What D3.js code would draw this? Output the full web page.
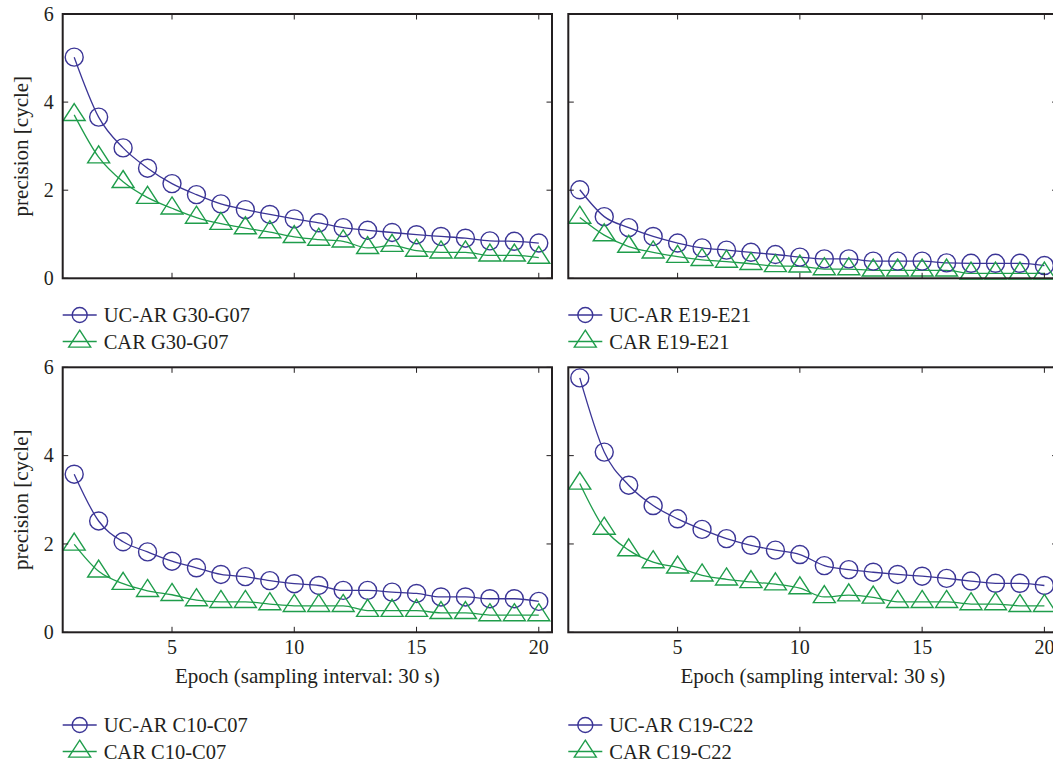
<!DOCTYPE html>
<html>
<head>
<meta charset="utf-8">
<script src="https://cdn.jsdelivr.net/npm/d3@7"></script>
<style>
  html, body { margin: 0; padding: 0; background: #fff; }
  svg { display: block; }
  text { font-family: "Liberation Serif", "DejaVu Serif", serif; fill: #231f20; }
</style>
</head>
<body>
<svg id="chart" width="1053" height="767"></svg>
<script>
// ---- data ----
const epochs = [1, 2, 3, 4, 5, 6, 7, 8, 9, 10, 11, 12, 13, 14, 15, 16, 17, 18, 19, 20];
const xTicks = [5, 10, 15, 20];
const yTicks = [0, 2, 4, 6];

const ucarG30G07 = [5.02, 3.66, 2.96, 2.50, 2.15, 1.90, 1.69, 1.56, 1.45, 1.35, 1.26, 1.15, 1.09, 1.04, 0.99, 0.95, 0.91, 0.85, 0.84, 0.80];
const carG30G07  = [3.71, 2.75, 2.19, 1.83, 1.59, 1.38, 1.24, 1.14, 1.05, 0.94, 0.88, 0.84, 0.69, 0.74, 0.63, 0.59, 0.59, 0.52, 0.52, 0.47];

const ucarE19E21 = [2.01, 1.40, 1.15, 0.95, 0.80, 0.69, 0.64, 0.59, 0.54, 0.48, 0.44, 0.44, 0.39, 0.39, 0.39, 0.35, 0.34, 0.34, 0.34, 0.29];
const carE19E21  = [1.38, 0.98, 0.72, 0.59, 0.49, 0.42, 0.38, 0.33, 0.28, 0.27, 0.21, 0.21, 0.18, 0.18, 0.18, 0.18, 0.11, 0.11, 0.11, 0.11];

const ucarC10C07 = [3.58, 2.52, 2.05, 1.82, 1.61, 1.46, 1.31, 1.26, 1.17, 1.10, 1.06, 0.95, 0.95, 0.91, 0.88, 0.80, 0.80, 0.76, 0.76, 0.70];
const carC10C07  = [1.99, 1.38, 1.10, 0.94, 0.85, 0.73, 0.69, 0.69, 0.64, 0.60, 0.60, 0.60, 0.49, 0.49, 0.49, 0.44, 0.44, 0.39, 0.39, 0.39];

const ucarC19C22 = [5.76, 4.08, 3.33, 2.87, 2.57, 2.33, 2.12, 1.97, 1.86, 1.76, 1.51, 1.42, 1.36, 1.31, 1.27, 1.22, 1.16, 1.11, 1.11, 1.06];
const carC19C22  = [3.37, 2.35, 1.86, 1.59, 1.47, 1.29, 1.20, 1.14, 1.09, 1.00, 0.80, 0.84, 0.79, 0.69, 0.69, 0.69, 0.64, 0.64, 0.60, 0.60];

const panelNames = ["G30-G07", "E19-E21", "C10-C07", "C19-C22"];
const seriesPrefixes = ["UC-AR", "CAR"];
const yLabel = "precision [cycle]";
const xLabel = "Epoch (sampling interval: 30 s)";

// ---- layout ----
const BLUE = "#3b3596";
const GREEN = "#1f9d4b";
const AXIS = "#231f20";

const panels = [
  { name: panelNames[0], uc: ucarG30G07, car: carG30G07, x0: 62.7, x1: 552,    y0: 14,    y1: 278.3, left: true,  bottom: false, legY: 315 },
  { name: panelNames[1], uc: ucarE19E21, car: carE19E21, x0: 568.3, x1: 1057.6, y0: 14,   y1: 278.3, left: false, bottom: false, legY: 315 },
  { name: panelNames[2], uc: ucarC10C07, car: carC10C07, x0: 62.7, x1: 552,    y0: 367.3, y1: 632.3, left: true,  bottom: true,  legY: 725 },
  { name: panelNames[3], uc: ucarC19C22, car: carC19C22, x0: 568.3, x1: 1057.6, y0: 367.3, y1: 632.3, left: false, bottom: true,  legY: 725 }
];

const svg = d3.select("#chart");

// custom triangle symbol, centroid at origin (width 22, height 17)
const triSymbol = {
  draw(ctx, size) {
    const w = 22, h = 17;
    ctx.moveTo(0, -2 * h / 3);
    ctx.lineTo(w / 2, h / 3);
    ctx.lineTo(-w / 2, h / 3);
    ctx.closePath();
  }
};
const triPath = d3.symbol().type(triSymbol)();

panels.forEach(p => {
  const x = d3.scaleLinear().domain([0.53, 20.54]).range([p.x0, p.x1]);
  const y = d3.scaleLinear().domain([0, 6]).range([p.y1, p.y0]);
  const g = svg.append("g");

  // lines
  const line = d3.line().x((d, i) => x(epochs[i])).y(d => y(d)).curve(d3.curveMonotoneX);
  g.append("path").datum(p.uc).attr("d", line)
    .attr("fill", "none").attr("stroke", BLUE).attr("stroke-width", 1.3);
  g.append("path").datum(p.car).attr("d", line)
    .attr("fill", "none").attr("stroke", GREEN).attr("stroke-width", 1.3);

  // markers
  g.selectAll(".c").data(p.uc).enter().append("circle")
    .attr("cx", (d, i) => x(epochs[i])).attr("cy", d => y(d)).attr("r", 9)
    .attr("fill", "none").attr("stroke", BLUE).attr("stroke-width", 1.4);
  g.selectAll(".t").data(p.car).enter().append("path")
    .attr("d", triPath)
    .attr("transform", (d, i) => `translate(${x(epochs[i])},${y(d)})`)
    .attr("fill", "none").attr("stroke", GREEN).attr("stroke-width", 1.4);

  // ticks (inward, on all four sides)
  const tickLen = 5.5;
  xTicks.forEach(t => {
    g.append("line").attr("x1", x(t)).attr("x2", x(t)).attr("y1", p.y1).attr("y2", p.y1 - tickLen)
      .attr("stroke", AXIS).attr("stroke-width", 1);
    g.append("line").attr("x1", x(t)).attr("x2", x(t)).attr("y1", p.y0).attr("y2", p.y0 + tickLen)
      .attr("stroke", AXIS).attr("stroke-width", 1);
  });
  yTicks.forEach(t => {
    g.append("line").attr("x1", p.x0).attr("x2", p.x0 + tickLen).attr("y1", y(t)).attr("y2", y(t))
      .attr("stroke", AXIS).attr("stroke-width", 1);
    g.append("line").attr("x1", p.x1).attr("x2", p.x1 - tickLen).attr("y1", y(t)).attr("y2", y(t))
      .attr("stroke", AXIS).attr("stroke-width", 1);
  });

  // box
  g.append("rect").attr("x", p.x0).attr("y", p.y0)
    .attr("width", p.x1 - p.x0).attr("height", p.y1 - p.y0)
    .attr("fill", "none").attr("stroke", AXIS).attr("stroke-width", 2);

  // tick labels
  if (p.left) {
    yTicks.forEach(t => {
      g.append("text").attr("x", p.x0 - 9).attr("y", y(t)).attr("dy", "0.34em")
        .attr("text-anchor", "end").attr("font-size", 20).text(t);
    });
    g.append("text")
      .attr("transform", `translate(${21},${(p.y0 + p.y1) / 2}) rotate(-90)`)
      .attr("text-anchor", "middle").attr("dy", "0.34em").attr("font-size", 21).text(yLabel);
  }
  if (p.bottom) {
    xTicks.forEach(t => {
      g.append("text").attr("x", x(t)).attr("y", p.y1 + 22)
        .attr("text-anchor", "middle").attr("font-size", 20).text(t);
    });
    g.append("text").attr("x", (p.x0 + p.x1) / 2).attr("y", p.y1 + 51)
      .attr("text-anchor", "middle").attr("font-size", 21).text(xLabel);
  }

  // legend
  const lx = p.x0;
  const rows = [
    { label: seriesPrefixes[0] + " " + p.name, color: BLUE, kind: "circle" },
    { label: seriesPrefixes[1] + " " + p.name, color: GREEN, kind: "tri" }
  ];
  rows.forEach((r, i) => {
    const ly = p.legY + i * 26.5;
    const lg = g.append("g");
    lg.append("line").attr("x1", lx).attr("x2", lx + 34).attr("y1", ly).attr("y2", ly)
      .attr("stroke", r.color).attr("stroke-width", 1.3);
    if (r.kind === "circle") {
      lg.append("circle").attr("cx", lx + 17).attr("cy", ly).attr("r", 7.5)
        .attr("fill", "none").attr("stroke", r.color).attr("stroke-width", 1.4);
    } else {
      lg.append("path").attr("d", triPath).attr("transform", `translate(${lx + 17},${ly})`)
        .attr("fill", "none").attr("stroke", r.color).attr("stroke-width", 1.4);
    }
    lg.append("text").attr("x", lx + 41).attr("y", ly + 7).attr("font-size", 20.5).text(r.label);
  });
});
</script>
</body>
</html>
